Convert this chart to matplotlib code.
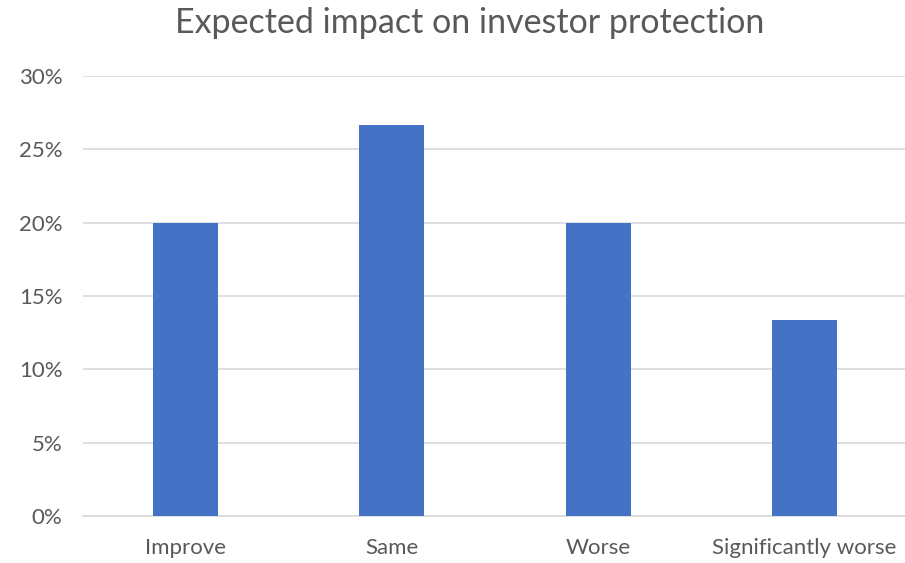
import matplotlib
matplotlib.use("Agg")
import matplotlib.pyplot as plt
from matplotlib.ticker import FuncFormatter

categories = ["Improve", "Same", "Worse", "Significantly worse"]
values = [0.20, 0.2667, 0.20, 0.1333]
yticks = [0, 0.05, 0.10, 0.15, 0.20, 0.25, 0.30]

plt.rcParams['font.family'] = ['Lato', 'DejaVu Sans']
W, H = 905, 563
fig = plt.figure(figsize=(W/100, H/100), dpi=100)
left, right = 82.5, 907.5
bottom, top = 516, 76
ax = fig.add_axes([left/W, 1-bottom/H, (right-left)/W, (bottom-top)/H])

x = range(len(categories))
ax.bar(x, values, width=0.315, color="#4472C4", zorder=3)
ax.set_xlim(-0.5, len(categories)-0.5)
ax.set_ylim(0, 0.30)
ax.set_yticks(yticks)
ax.yaxis.set_major_formatter(FuncFormatter(lambda v, p: f"{v*100:.0f}%"))
ax.set_xticks(list(x))
ax.set_xticklabels(categories)
ax.grid(axis='y', color="#D9D9D9", linewidth=1.2, zorder=0)
for s in ['top', 'right', 'left']:
    ax.spines[s].set_visible(False)
ax.spines['bottom'].set_color("#D9D9D9")
ax.spines['bottom'].set_linewidth(1.2)
ax.tick_params(axis='both', length=0, colors="#595959", labelsize=16)
ax.tick_params(axis='y', pad=14.5)
ax.tick_params(axis='x', pad=16)
fig.text(470/W, 1-23/H, "Expected impact on investor protection", ha='center', va='center',
         fontsize=24.5, color="#595959")
fig.savefig("out.png", dpi=100)
